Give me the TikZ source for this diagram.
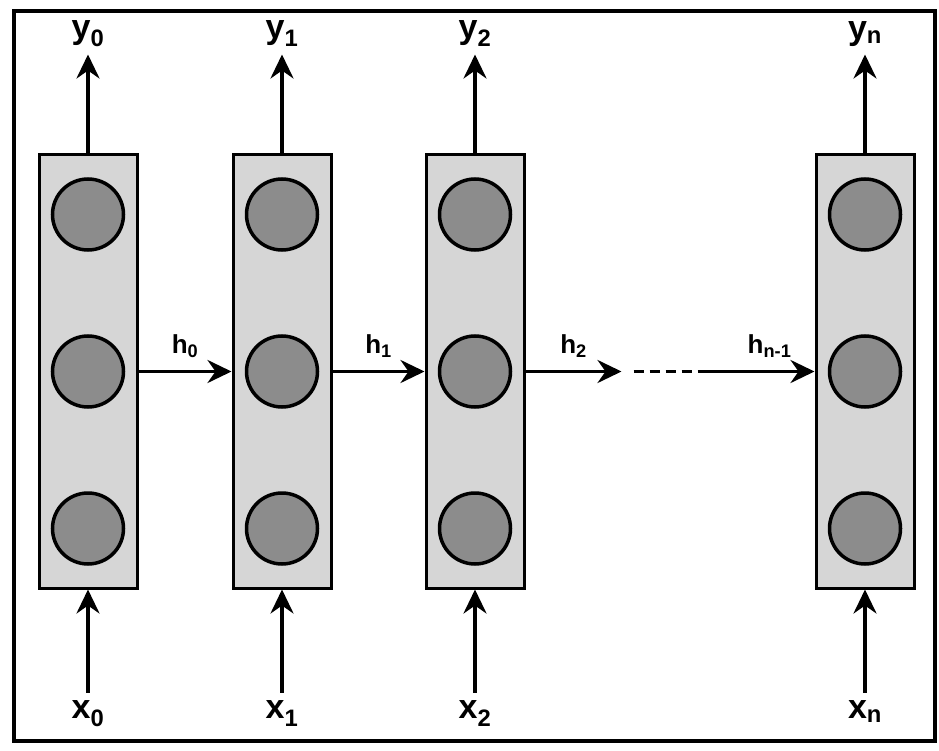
\documentclass[tikz,border=0pt]{standalone}
\usepackage{fontspec}
\setmainfont{Liberation Sans}
\usetikzlibrary{arrows.meta,positioning}

\begin{document}
\begin{tikzpicture}[
    x=1pt, y=1pt,
    node distance=82.5pt,
    column/.style={rectangle, draw, line width=3pt, fill=black!16, minimum width=98pt, minimum height=433pt},
    neuron/.style={circle, draw, line width=3.5pt, fill=black!45, minimum size=71pt},
    iolabel/.style={font=\fontsize{34}{38}\selectfont\bfseries, inner sep=8pt},
    hlabel/.style={font=\fontsize{26}{30}\selectfont\bfseries, inner sep=4pt},
    arrow/.style={-{Stealth[length=24pt,width=23pt,inset=8pt]}, line width=3.5pt},
    dotline/.style={line width=3.5pt, dash pattern=on 10pt off 6pt},
    frame/.style={draw, line width=4pt}
]

\useasboundingbox (0,0) rectangle (939,-751);

% Outer frame
\draw[frame] (14,-11) rectangle (935,-741);

% Columns
\node[column] (col0) at (88,-371.5) {};
\node[column, right=93pt of col0] (col1) {};
\node[column, right=92pt of col1] (col2) {};
\node[column, right=289pt of col2] (coln) {};

% Neurons in column 0
\node[neuron] (n0m) at (col0) {};
\node[neuron, above=of n0m] (n0t) {};
\node[neuron, below=of n0m] (n0b) {};

% Neurons in column 1
\node[neuron] (n1m) at (col1) {};
\node[neuron, above=of n1m] (n1t) {};
\node[neuron, below=of n1m] (n1b) {};

% Neurons in column 2
\node[neuron] (n2m) at (col2) {};
\node[neuron, above=of n2m] (n2t) {};
\node[neuron, below=of n2m] (n2b) {};

% Neurons in column n
\node[neuron] (nnm) at (coln) {};
\node[neuron, above=of nnm] (nnt) {};
\node[neuron, below=of nnm] (nnb) {};

% Outputs
\node[iolabel, above=99pt of col0] (y0) {y\textsubscript{0}};
\node[iolabel, above=99pt of col1] (y1) {y\textsubscript{1}};
\node[iolabel, above=99pt of col2] (y2) {y\textsubscript{2}};
\node[iolabel, above=99pt of coln] (yn) {y\textsubscript{n}};

% Inputs
\node[iolabel, below=103pt of col0] (x0) {x\textsubscript{0}};
\node[iolabel, below=103pt of col1] (x1) {x\textsubscript{1}};
\node[iolabel, below=103pt of col2] (x2) {x\textsubscript{2}};
\node[iolabel, below=103pt of coln] (xn) {x\textsubscript{n}};

% Gap in the chain
\coordinate[right=96pt of col2] (d1);
\coordinate[right=86pt of d1] (d2);

% Arrows
\draw[arrow] (col0) -- (y0);
\draw[arrow] (col1) -- (y1);
\draw[arrow] (col2) -- (y2);
\draw[arrow] (coln) -- (yn);
\draw[arrow] (x0) -- (col0);
\draw[arrow] (x1) -- (col1);
\draw[arrow] (x2) -- (col2);
\draw[arrow] (xn) -- (coln);
\draw[arrow] (col0) -- node[hlabel, above=8pt] (h0) {h\textsubscript{0}} (col1);
\draw[arrow] (col1) -- node[hlabel, above=8pt] (h1) {h\textsubscript{1}} (col2);
\draw[arrow] (col2) -- node[hlabel, above=8pt] (h2) {h\textsubscript{2}} (d1);
\draw[dotline, shorten <=12pt] (d1) -- (d2);
\draw[arrow] (d2) -- node[hlabel, above=8pt, pos=0.58] (hn) {h\textsubscript{n-1}} (coln);

\end{tikzpicture}
\end{document}
